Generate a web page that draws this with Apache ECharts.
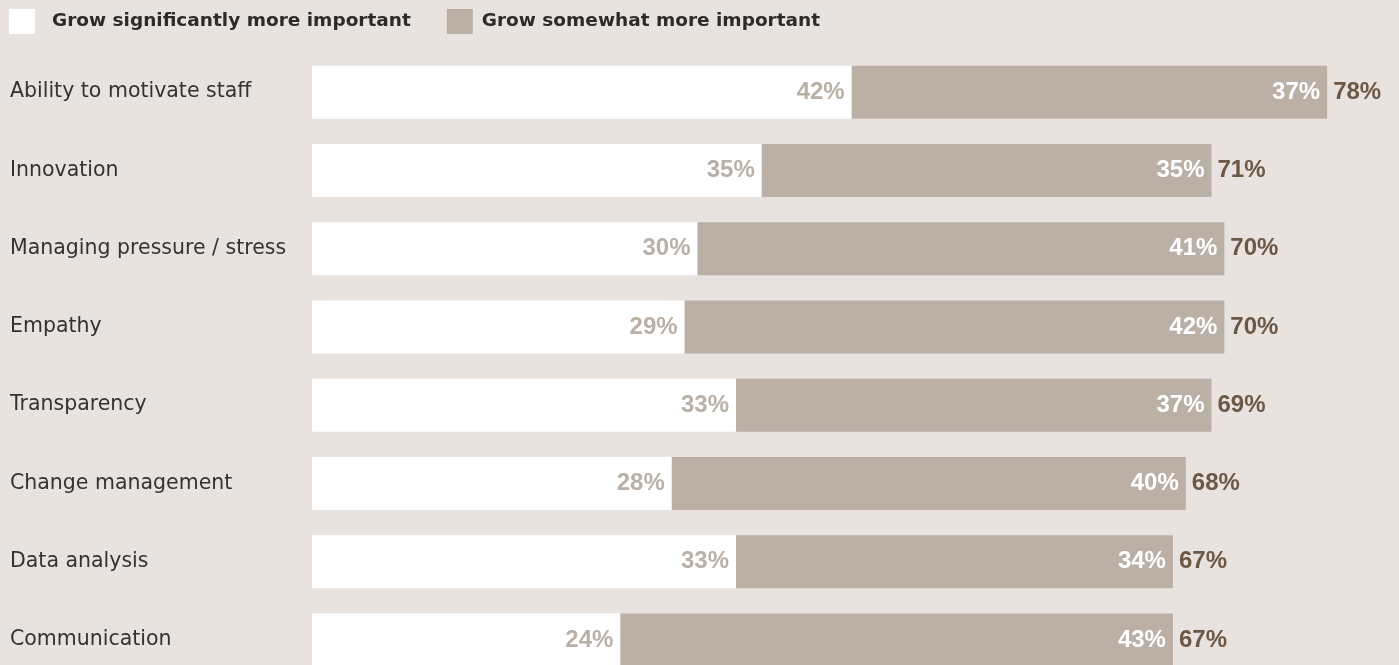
<!DOCTYPE html>
<html>
<head>
<meta charset="utf-8">
<script src="https://cdn.jsdelivr.net/npm/echarts@6/dist/echarts.min.js"></script>
<style>
html,body{margin:0;padding:0;background:#e8e3df;}
#chart{width:1399px;height:665px;}
</style>
</head>
<body>
<div id="chart"></div>
<script>
const categories = ["Ability to motivate staff","Innovation","Managing pressure / stress","Empathy","Transparency","Change management","Data analysis","Communication"];
const significantly = [42,35,30,29,33,28,33,24];
const somewhat = [37,35,41,42,37,40,34,43];
const totals = [78,71,70,70,69,68,67,67];
const seriesNames = ["Grow significantly more important","Grow somewhat more important"];

const FONT = "DejaVu Sans";
const NUMFONT = "Liberation Sans";
const GREY = "#bab0a5";
const chart = echarts.init(document.getElementById('chart'), null, {renderer:'canvas'});
chart.setOption({
  backgroundColor: '#e8e3df',
  animation: false,
  legend: {
    left: 9, top: 9, padding: 0,
    itemWidth: 26, itemHeight: 25,
    itemGap: 36,
    icon: 'rect',
    selectedMode: false,
    textStyle: {fontFamily: FONT, fontWeight: 'bold', fontSize: 18.5, color: '#2b2b2b'},
    data: [
      {name: seriesNames[0], textStyle: {padding: [0,0,0,12]}},
      {name: seriesNames[1], textStyle: {padding: [0,0,0,4]}}
    ]
  },
  grid: {left: 312, top: 53, width: 1285, height: 626, containLabel: false, outerBoundsMode: 'none'},
  xAxis: {type: 'value', min: 0, max: 100, show: false},
  yAxis: {
    type: 'category', data: categories, inverse: true,
    axisLine: {show: false}, axisTick: {show: false}, splitLine: {show: false},
    axisLabel: {align: 'left', margin: 302, fontFamily: FONT, fontSize: 20.5, color: '#333'}
  },
  series: [
    {
      name: seriesNames[0], type: 'bar', stack: 'a', data: significantly, barWidth: 53,
      itemStyle: {color: '#ffffff'},
      label: {show: true, position: 'insideRight', distance: 7, formatter: '{c}%', fontFamily: NUMFONT, fontWeight: 'bold', fontSize: 24, color: GREY}
    },
    {
      name: seriesNames[1], type: 'bar', stack: 'a', data: somewhat, barWidth: 53,
      itemStyle: {color: GREY},
      label: {show: true, position: 'insideRight', distance: 7, formatter: '{c}%', fontFamily: NUMFONT, fontWeight: 'bold', fontSize: 24, color: '#ffffff'}
    },
    {
      name: 'total', type: 'bar', stack: 'a', data: totals.map(() => 0), barWidth: 53,
      itemStyle: {color: 'rgba(0,0,0,0)'},
      label: {show: true, position: 'right', distance: 6, formatter: p => totals[p.dataIndex] + '%', fontFamily: NUMFONT, fontWeight: 'bold', fontSize: 24, color: '#6b5847'}
    }
  ]
});
</script>
</body>
</html>
